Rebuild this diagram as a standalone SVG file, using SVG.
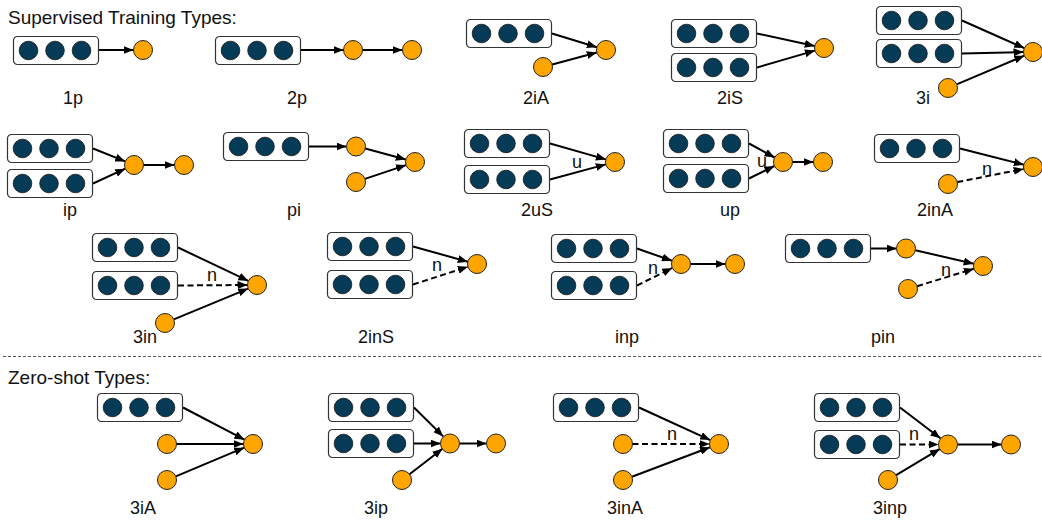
<svg xmlns="http://www.w3.org/2000/svg" xmlns:xlink="http://www.w3.org/1999/xlink" width="1042" height="523" viewBox="0 0 1042 523">
<style>
text{font-family:"Liberation Sans",Arial,sans-serif;fill:#111}
.title{font-size:19px}
.lbl{font-size:18px;text-anchor:middle}
.el{font-size:18px;text-anchor:middle}
.o{fill:#FFA500;stroke:#222;stroke-width:1}
.e{fill:none;stroke:#000;stroke-width:2;marker-end:url(#ah)}
.d{stroke-dasharray:6 3.5}
.sep{stroke:#555;stroke-width:1;stroke-dasharray:3 2}
</style>
<defs>
<marker id="ah" markerUnits="userSpaceOnUse" markerWidth="10" markerHeight="8" refX="10" refY="4" orient="auto">
<path d="M0,0 L10,4 L0,8 z" fill="#000"/>
</marker>
<g id="vec">
<rect x="0.5" y="0.5" width="85" height="28" rx="4" fill="#fff" stroke="#333" stroke-width="1.2"/>
<circle cx="15.5" cy="14.5" r="9.3" fill="#063B57" stroke="#111" stroke-width="0.8"/>
<circle cx="42" cy="14.5" r="9.3" fill="#063B57" stroke="#111" stroke-width="0.8"/>
<circle cx="68.5" cy="14.5" r="9.3" fill="#063B57" stroke="#111" stroke-width="0.8"/>
</g>
</defs>
<rect width="1042" height="523" fill="#fff"/>
<text class="title" x="8" y="24">Supervised Training Types:</text>
<text class="title" x="8" y="384">Zero-shot Types:</text>
<line class="sep" x1="3" y1="356.5" x2="1042" y2="356.5"/>

<g id="connectors">
<!-- 1p -->
<line class="e" x1="99" y1="50" x2="133.5" y2="50"/>
<!-- 2p -->
<line class="e" x1="301" y1="50" x2="343.5" y2="50"/>
<line class="e" x1="362.5" y1="50" x2="402.5" y2="50"/>
<!-- 2iA -->
<line class="e" x1="552" y1="33.5" x2="596.9" y2="47.2"/>
<line class="e" x1="552.2" y1="64.5" x2="596.8" y2="52.5"/>
<!-- 2iS -->
<line class="e" x1="757" y1="33.5" x2="814.7" y2="45.9"/>
<line class="e" x1="757" y1="67.5" x2="814.9" y2="50.6"/>
<!-- 3i -->
<line class="e" x1="962" y1="20.5" x2="1024.3" y2="48.1"/>
<line class="e" x1="962" y1="53.5" x2="1023.5" y2="52.1"/>
<line class="e" x1="956.7" y1="84.3" x2="1024.3" y2="55.7"/>
<!-- ip -->
<line class="e" x1="93" y1="148.5" x2="125.2" y2="161.4"/>
<line class="e" x1="93" y1="183.5" x2="125.3" y2="168.7"/>
<line class="e" x1="143.5" y1="165" x2="174.5" y2="165"/>
<!-- pi -->
<line class="e" x1="309" y1="146.5" x2="346.5" y2="146.5"/>
<line class="e" x1="365.2" y1="148.5" x2="405.8" y2="159.5"/>
<line class="e" x1="365" y1="178.9" x2="406" y2="165.1"/>
<!-- 2uS -->
<line class="e" x1="550" y1="143.5" x2="605.9" y2="159.4"/>
<line class="e" x1="550" y1="179.5" x2="605.8" y2="164.4"/>
<!-- up -->
<line class="e" x1="749" y1="143.5" x2="774.6" y2="157.5"/>
<line class="e" x1="749" y1="178.5" x2="774.4" y2="166"/>
<line class="e" x1="792.5" y1="162" x2="813.5" y2="162"/>
<!-- 2inA -->
<line class="e" x1="960" y1="148.5" x2="1023.8" y2="164.7"/>
<line class="e d" x1="957.3" y1="182.1" x2="1023.7" y2="168.9"/>
<!-- 3in -->
<line class="e" x1="178" y1="247.5" x2="248.4" y2="280.9"/>
<line class="e d" x1="178" y1="285.5" x2="247.5" y2="285"/>
<line class="e" x1="173.8" y1="319.4" x2="248.2" y2="288.6"/>
<!-- 2inS -->
<line class="e" x1="413" y1="246.5" x2="467.8" y2="261.7"/>
<line class="e d" x1="413" y1="284.5" x2="467.9" y2="266.8"/>
<!-- inp -->
<line class="e" x1="637" y1="248.5" x2="672" y2="260.8"/>
<line class="e d" x1="637" y1="285.5" x2="672.3" y2="267.9"/>
<line class="e" x1="690.5" y1="264" x2="725.5" y2="264"/>
<!-- pin -->
<line class="e" x1="871" y1="248.5" x2="896.5" y2="248.5"/>
<line class="e" x1="915.3" y1="250.2" x2="973.7" y2="263.8"/>
<line class="e d" x1="917.1" y1="286.2" x2="973.9" y2="268.8"/>
<!-- 3iA -->
<line class="e" x1="183" y1="407.5" x2="244.5" y2="439.7"/>
<line class="e" x1="176.5" y1="444" x2="243.5" y2="444"/>
<line class="e" x1="175.8" y1="476.3" x2="244.2" y2="447.7"/>
<!-- 3ip -->
<line class="e" x1="414" y1="407.5" x2="443.2" y2="436.4"/>
<line class="e" x1="414" y1="443.5" x2="440.5" y2="443.5"/>
<line class="e" x1="409.5" y1="474.2" x2="442.5" y2="448.8"/>
<line class="e" x1="459.5" y1="443.5" x2="486.5" y2="443.5"/>
<!-- 3inA -->
<line class="e" x1="639" y1="407.5" x2="710.3" y2="440.1"/>
<line class="e d" x1="632.5" y1="444" x2="709.5" y2="444"/>
<line class="e" x1="631.9" y1="476.7" x2="710.1" y2="447.3"/>
<!-- 3inp -->
<line class="e" x1="900" y1="407.5" x2="940.4" y2="438.3"/>
<line class="e d" x1="900" y1="444.5" x2="938.5" y2="444.5"/>
<line class="e" x1="896.1" y1="475.1" x2="939.9" y2="448.9"/>
<line class="e" x1="957.5" y1="444.5" x2="1001.5" y2="444.5"/>
<!-- edge labels -->
<text class="el" x="577" y="168">u</text>
<text class="el" x="762" y="167">u</text>
<text class="el" x="987" y="175">n</text>
<text class="el" x="212" y="281">n</text>
<text class="el" x="437" y="271">n</text>
<text class="el" x="653" y="274">n</text>
<text class="el" x="946" y="276">n</text>
<text class="el" x="672" y="440">n</text>
<text class="el" x="914" y="440">n</text>
</g>

<!-- 1p -->
<g id="p1-box"><use href="#vec" x="13" y="36"/></g>
<g id="p1-o1"><circle class="o" cx="143" cy="50" r="9.5"/></g>
<!-- 2p -->
<g id="p2-box"><use href="#vec" x="215" y="36"/></g>
<g id="p2-o1"><circle class="o" cx="353" cy="50" r="9.5"/></g>
<g id="p2-o2"><circle class="o" cx="412" cy="50" r="9.5"/></g>
<!-- 2iA -->
<g id="i2a-box"><use href="#vec" x="466" y="19"/></g>
<g id="i2a-src"><circle class="o" cx="543" cy="67" r="9.5"/></g>
<g id="i2a-tgt"><circle class="o" cx="606" cy="50" r="9.5"/></g>
<!-- 2iS -->
<g id="i2s-box1"><use href="#vec" x="671" y="19"/></g>
<g id="i2s-box2"><use href="#vec" x="671" y="53"/></g>
<g id="i2s-tgt"><circle class="o" cx="824" cy="48" r="9.5"/></g>
<!-- 3i -->
<g id="i3-box1"><use href="#vec" x="876" y="6"/></g>
<g id="i3-box2"><use href="#vec" x="876" y="39"/></g>
<g id="i3-src"><circle class="o" cx="948" cy="88" r="9.5"/></g>
<g id="i3-tgt"><circle class="o" cx="1033" cy="52" r="9.5"/></g>
<!-- ip -->
<g id="ip-box1"><use href="#vec" x="7" y="134"/></g>
<g id="ip-box2"><use href="#vec" x="7" y="169"/></g>
<g id="ip-mid"><circle class="o" cx="134" cy="165" r="9.5"/></g>
<g id="ip-out"><circle class="o" cx="184" cy="165" r="9.5"/></g>
<!-- pi -->
<g id="pi-box"><use href="#vec" x="223" y="132"/></g>
<g id="pi-o1"><circle class="o" cx="356" cy="146.5" r="9.5"/></g>
<g id="pi-src"><circle class="o" cx="356" cy="182" r="9.5"/></g>
<g id="pi-tgt"><circle class="o" cx="415" cy="162" r="9.5"/></g>
<!-- 2uS -->
<g id="u2s-box1"><use href="#vec" x="464" y="129"/></g>
<g id="u2s-box2"><use href="#vec" x="464" y="165"/></g>
<g id="u2s-tgt"><circle class="o" cx="615" cy="162" r="9.5"/></g>
<!-- up -->
<g id="up-box1"><use href="#vec" x="663" y="129"/></g>
<g id="up-box2"><use href="#vec" x="663" y="164"/></g>
<g id="up-mid"><circle class="o" cx="783" cy="162" r="9.5"/></g>
<g id="up-out"><circle class="o" cx="823" cy="162" r="9.5"/></g>
<!-- 2inA -->
<g id="in2a-box"><use href="#vec" x="874" y="134"/></g>
<g id="in2a-src"><circle class="o" cx="948" cy="184" r="9.5"/></g>
<g id="in2a-tgt"><circle class="o" cx="1033" cy="167" r="9.5"/></g>
<!-- 3in -->
<g id="in3-box1"><use href="#vec" x="92" y="233"/></g>
<g id="in3-box2"><use href="#vec" x="92" y="271"/></g>
<g id="in3-src"><circle class="o" cx="165" cy="323" r="9.5"/></g>
<g id="in3-tgt"><circle class="o" cx="257" cy="285" r="9.5"/></g>
<!-- 2inS -->
<g id="in2s-box1"><use href="#vec" x="327" y="232"/></g>
<g id="in2s-box2"><use href="#vec" x="327" y="270"/></g>
<g id="in2s-tgt"><circle class="o" cx="477" cy="264" r="9.5"/></g>
<!-- inp -->
<g id="inp-box1"><use href="#vec" x="551" y="234"/></g>
<g id="inp-box2"><use href="#vec" x="551" y="271"/></g>
<g id="inp-mid"><circle class="o" cx="681" cy="264" r="9.5"/></g>
<g id="inp-out"><circle class="o" cx="735" cy="264" r="9.5"/></g>
<!-- pin -->
<g id="pin-box"><use href="#vec" x="785" y="234"/></g>
<g id="pin-o1"><circle class="o" cx="906" cy="248.5" r="9.5"/></g>
<g id="pin-src"><circle class="o" cx="908" cy="289" r="9.5"/></g>
<g id="pin-tgt"><circle class="o" cx="983" cy="266" r="9.5"/></g>
<!-- 3iA -->
<g id="i3a-box"><use href="#vec" x="97" y="393"/></g>
<g id="i3a-src1"><circle class="o" cx="167" cy="444" r="9.5"/></g>
<g id="i3a-src2"><circle class="o" cx="167" cy="480" r="9.5"/></g>
<g id="i3a-tgt"><circle class="o" cx="253" cy="444" r="9.5"/></g>
<!-- 3ip -->
<g id="i3p-box1"><use href="#vec" x="328" y="393"/></g>
<g id="i3p-box2"><use href="#vec" x="328" y="429"/></g>
<g id="i3p-src"><circle class="o" cx="402" cy="480" r="9.5"/></g>
<g id="i3p-mid"><circle class="o" cx="450" cy="443.5" r="9.5"/></g>
<g id="i3p-out"><circle class="o" cx="496" cy="443.5" r="9.5"/></g>
<!-- 3inA -->
<g id="in3a-box"><use href="#vec" x="553" y="393"/></g>
<g id="in3a-src1"><circle class="o" cx="623" cy="444" r="9.5"/></g>
<g id="in3a-src2"><circle class="o" cx="623" cy="480" r="9.5"/></g>
<g id="in3a-tgt"><circle class="o" cx="719" cy="444" r="9.5"/></g>
<!-- 3inp -->
<g id="in3p-box1"><use href="#vec" x="814" y="393"/></g>
<g id="in3p-box2"><use href="#vec" x="814" y="430"/></g>
<g id="in3p-src"><circle class="o" cx="888" cy="480" r="9.5"/></g>
<g id="in3p-mid"><circle class="o" cx="948" cy="444.5" r="9.5"/></g>
<g id="in3p-out"><circle class="o" cx="1011" cy="444.5" r="9.5"/></g>

<g id="labels">
<text class="lbl" x="73" y="104">1p</text>
<text class="lbl" x="297" y="104">2p</text>
<text class="lbl" x="536" y="104">2iA</text>
<text class="lbl" x="730" y="104">2iS</text>
<text class="lbl" x="923" y="104">3i</text>
<text class="lbl" x="70" y="216">ip</text>
<text class="lbl" x="294" y="216">pi</text>
<text class="lbl" x="537" y="216">2uS</text>
<text class="lbl" x="730" y="216">up</text>
<text class="lbl" x="935" y="216">2inA</text>
<text class="lbl" x="145" y="343">3in</text>
<text class="lbl" x="376" y="343">2inS</text>
<text class="lbl" x="627" y="343">inp</text>
<text class="lbl" x="883" y="343">pin</text>
<text class="lbl" x="143" y="514">3iA</text>
<text class="lbl" x="376" y="514">3ip</text>
<text class="lbl" x="625" y="514">3inA</text>
<text class="lbl" x="890" y="514">3inp</text>
</g>
</svg>
